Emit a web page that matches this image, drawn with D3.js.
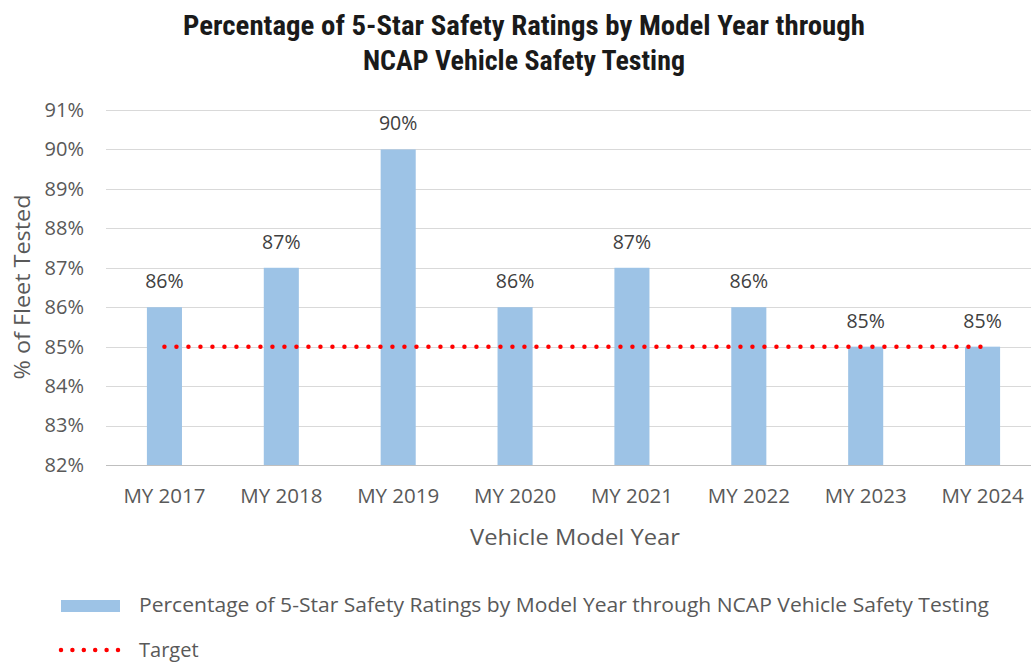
<!DOCTYPE html>
<html>
<head>
<meta charset="utf-8">
<script src="https://cdn.jsdelivr.net/npm/d3@7"></script>
<style>
  body { margin: 0; background: #fff; }
  text { font-family: "Open Sans", "DejaVu Sans", sans-serif; }
</style>
</head>
<body>
<div id="chart"></div>
<script>
var years = ["MY 2017", "MY 2018", "MY 2019", "MY 2020", "MY 2021", "MY 2022", "MY 2023", "MY 2024"]
var ratings = [86, 87, 90, 86, 87, 86, 85, 85]
var target = [85, 85, 85, 85, 85, 85, 85, 85]
var yTicks = [82, 83, 84, 85, 86, 87, 88, 89, 90, 91]
var titleLines = ["Percentage of 5-Star Safety Ratings by Model Year through", "NCAP Vehicle Safety Testing"]
var seriesName = "Percentage of 5-Star Safety Ratings by Model Year through NCAP Vehicle Safety Testing"

var width = 1031, height = 662
var margin = {left: 106, right: -10, top: 110, bottom: 197}

var svg = d3.select("#chart").append("svg")
    .attr("width", width)
    .attr("height", height)

var x = d3.scaleBand()
    .domain(years)
    .range([margin.left, width - margin.right])
    .paddingInner(0.7)
    .paddingOuter(0.35)

var y = d3.scaleLinear()
    .domain([82, 91])
    .range([height - margin.bottom, margin.top])

// title
svg.selectAll(".title")
    .data(titleLines).enter()
    .append("text")
    .attr("class", "title")
    .attr("x", 524)
    .attr("y", function(d, i){ return 35 + i * 35 })
    .attr("text-anchor", "middle")
    .style("font-family", "'Liberation Sans Narrow', 'Roboto Condensed', 'Liberation Sans', sans-serif")
    .style("font-weight", "bold")
    .style("font-size", "27px")
    .style("fill", "#1a1a1a")
    .attr("textLength", function(d, i){ return i == 0 ? 682 : 322 })
    .attr("lengthAdjust", "spacingAndGlyphs")
    .text(function(d){ return d })

// gridlines
svg.append("g")
    .selectAll("line")
    .data(yTicks).enter()
    .append("line")
    .attr("x1", margin.left)
    .attr("x2", 1031)
    .attr("y1", function(d){ return Math.round(y(d)) + 0.5 })
    .attr("y2", function(d){ return Math.round(y(d)) + 0.5 })
    .style("stroke", function(d){ return d == 82 ? "#bfbfbf" : "#d9d9d9" })
    .style("stroke-width", 1)

// y axis labels
var yAxis = d3.axisLeft(y).tickValues(yTicks).tickSize(0).tickPadding(0)
    .tickFormat(function(d){ return d + "%" })
svg.append("g")
    .attr("transform", "translate(84,0)")
    .call(yAxis)
    .call(function(g){ g.select(".domain").remove() })
    .selectAll("text")
    .style("font-family", "'Open Sans', sans-serif")
    .style("font-size", "20px")
    .style("fill", "#595959")

// x axis labels
var xAxis = d3.axisBottom(x).tickSize(0).tickPadding(0)
svg.append("g")
    .attr("transform", "translate(0,488)")
    .call(xAxis)
    .call(function(g){ g.select(".domain").remove() })
    .selectAll("text")
    .style("font-family", "'Open Sans', sans-serif")
    .style("font-size", "20.5px")
    .style("fill", "#595959")

// bars
svg.append("g")
    .selectAll("rect")
    .data(ratings).enter()
    .append("rect")
    .attr("x", function(d, i){ return x(years[i]) })
    .attr("width", x.bandwidth())
    .attr("y", function(d){ return y(d) })
    .attr("height", function(d){ return y(82) - y(d) })
    .style("fill", "#9dc3e6")

// data labels
svg.append("g")
    .selectAll("text")
    .data(ratings).enter()
    .append("text")
    .attr("x", function(d, i){ return x(years[i]) + x.bandwidth() / 2 })
    .attr("y", function(d){ return y(d) - 19 })
    .attr("text-anchor", "middle")
    .style("font-size", "19.5px")
    .style("fill", "#404040")
    .text(function(d){ return d + "%" })

// target line
var line = d3.line()
    .x(function(d, i){ return x(years[i]) + x.bandwidth() / 2 })
    .y(function(d){ return y(d) })
svg.append("path")
    .datum(target)
    .attr("d", line)
    .style("fill", "none")
    .style("stroke", "#ff0000")
    .style("stroke-width", 4.5)
    .style("stroke-linecap", "round")
    .style("stroke-dasharray", "0 12")

// axis titles
svg.append("text")
    .attr("x", 575)
    .attr("y", 545)
    .attr("text-anchor", "middle")
    .style("font-size", "22px")
    .style("fill", "#595959")
    .attr("textLength", 210)
    .attr("lengthAdjust", "spacingAndGlyphs")
    .text("Vehicle Model Year")

svg.append("text")
    .attr("transform", "translate(30,287) rotate(-90)")
    .attr("text-anchor", "middle")
    .style("font-size", "22px")
    .style("fill", "#595959")
    .attr("textLength", 185)
    .attr("lengthAdjust", "spacingAndGlyphs")
    .text("% of Fleet Tested")

// legend
svg.append("rect")
    .attr("x", 61)
    .attr("y", 600)
    .attr("width", 59)
    .attr("height", 12)
    .style("fill", "#9dc3e6")
svg.append("text")
    .attr("x", 139)
    .attr("y", 612)
    .style("font-size", "20px")
    .style("fill", "#595959")
    .attr("textLength", 850)
    .attr("lengthAdjust", "spacingAndGlyphs")
    .text(seriesName)

svg.append("line")
    .attr("x1", 61)
    .attr("x2", 118)
    .attr("y1", 650)
    .attr("y2", 650)
    .style("stroke", "#ff0000")
    .style("stroke-width", 4.5)
    .style("stroke-linecap", "round")
    .style("stroke-dasharray", "0 11.4")
svg.append("text")
    .attr("x", 139)
    .attr("y", 657)
    .style("font-size", "20px")
    .style("fill", "#595959")
    .text("Target")
</script>
</body>
</html>
